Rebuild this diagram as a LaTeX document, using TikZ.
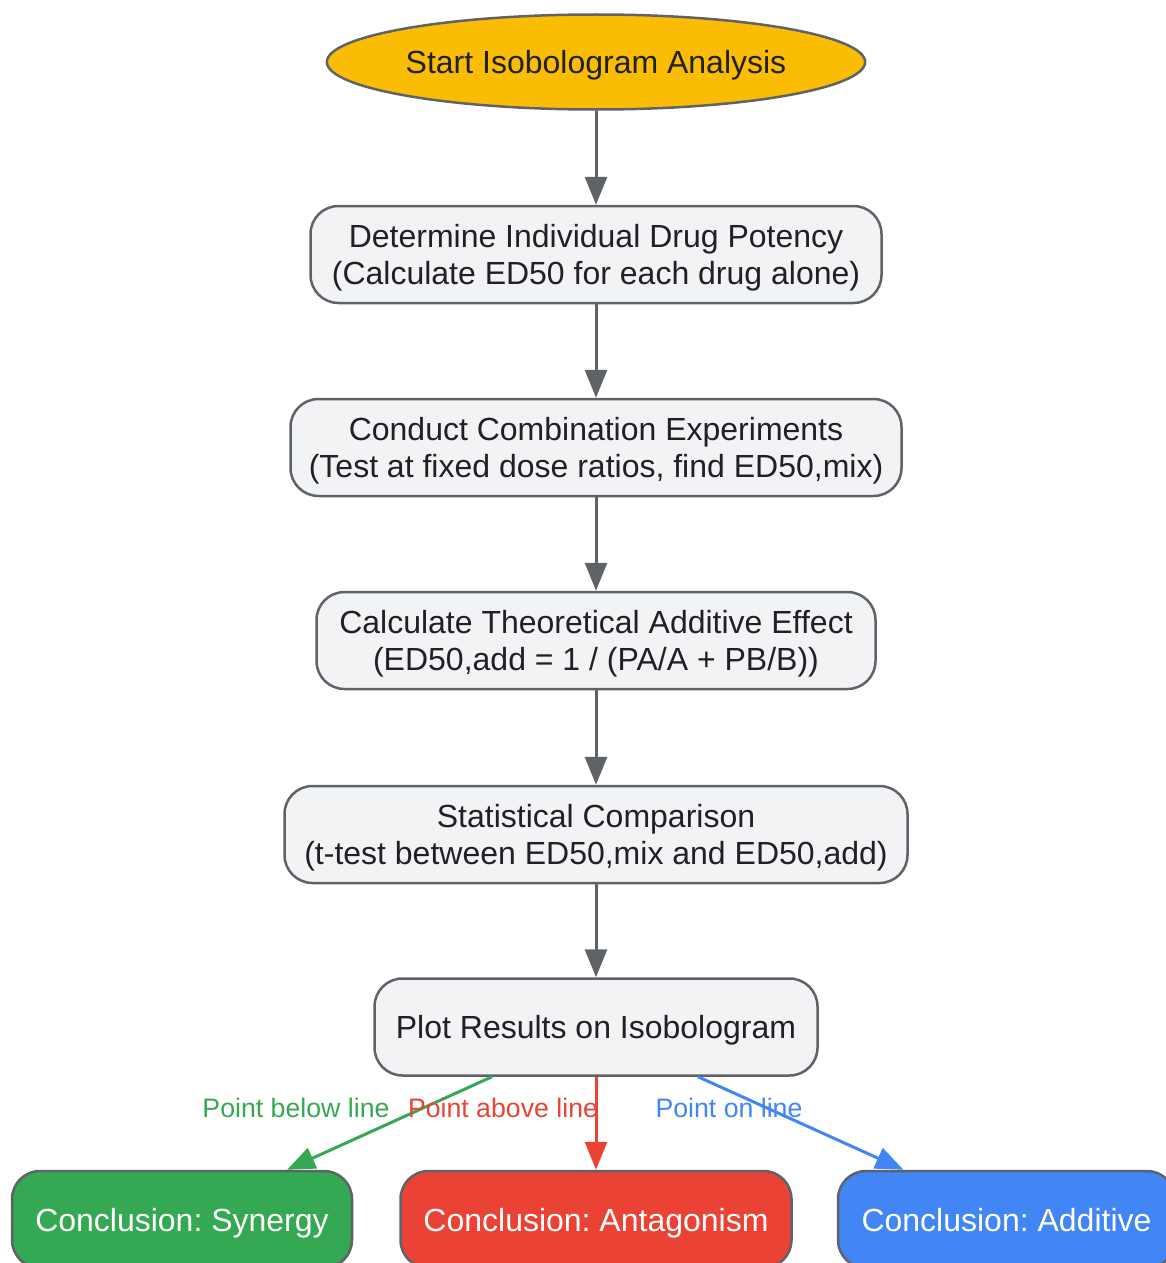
\documentclass[tikz,border=0pt]{standalone}
\usepackage{fontspec}
\setmainfont{Liberation Sans}
\usetikzlibrary{shapes.geometric,arrows.meta}
\definecolor{edgegray}{HTML}{5F6368}
\definecolor{boxfill}{HTML}{F1F3F4}
\definecolor{startfill}{HTML}{FBBC04}
\definecolor{txtdark}{HTML}{202124}
\definecolor{syngreen}{HTML}{34A853}
\definecolor{antred}{HTML}{EA4335}
\definecolor{addblue}{HTML}{4285F4}
\frenchspacing
\begin{document}
\begin{tikzpicture}[x=1pt, y=-1pt,
    stepbox/.style={draw=edgegray, line width=2.5pt, fill=boxfill, rounded corners=28pt,
        minimum height=97pt, inner sep=0pt, align=center, text=txtdark, text depth=0pt,
        font=\fontsize{32}{37.5}\selectfont},
    endbox/.style={stepbox, text=white},
    flow/.style={draw=edgegray, line width=3pt, -{Triangle[length=28pt,width=22pt]}},
    lbl/.style={font=\fontsize{26.7}{30}\selectfont}]
    % Isobologram workflow
    \useasboundingbox (0,0) rectangle (1166,1263);
    \node[ellipse, draw=edgegray, line width=2.5pt, fill=startfill, minimum width=537pt,
        minimum height=95pt, inner sep=0pt, text=txtdark, text depth=0pt,
        font=\fontsize{32}{37.5}\selectfont]
        (start) at (596,62) {Start Isobologram Analysis};
    \node[stepbox, minimum width=571pt] (potency) at (596,254.5)
        {Determine Individual Drug Potency\\(Calculate ED50 for each drug alone)};
    \node[stepbox, minimum width=611pt] (combo) at (596,447.5)
        {Conduct Combination Experiments\\(Test at fixed dose ratios, find ED50,mix)};
    \node[stepbox, minimum width=559pt] (additive) at (596,640.5)
        {Calculate Theoretical Additive Effect\\(ED50,add = 1 / (PA/A + PB/B))};
    \node[stepbox, minimum width=623pt] (stats) at (596,834.5)
        {Statistical Comparison\\(t-test between ED50,mix and ED50,add)};
    \node[stepbox, minimum width=443pt] (plot) at (596,1027) {Plot Results on Isobologram};
    \node[endbox, fill=syngreen, minimum width=340pt] (synergy) at (182,1219.5) {Conclusion: Synergy};
    \node[endbox, fill=antred, minimum width=391pt] (antagonism) at (596,1219.5) {Conclusion: Antagonism};
    \node[endbox, fill=addblue, minimum width=337pt] (additivec) at (1006.5,1219.5) {Conclusion: Additive};

    \draw[flow] (start) -- (potency);
    \draw[flow] (potency) -- (combo);
    \draw[flow] (combo) -- (additive);
    \draw[flow] (additive) -- (stats);
    \draw[flow] (stats) -- (plot);

    \node[lbl, text=addblue] (lon) at (729,1108) {Point on line};
    \draw[flow, draw=syngreen] ([xshift=-104pt]plot.south) -- ([xshift=105pt]synergy.north);
    \draw[flow, draw=antred] (plot.south) -- (antagonism.north);
    \draw[flow, draw=addblue] ([xshift=102pt]plot.south) -- ([xshift=-103pt]additivec.north);
    \node[lbl, text=syngreen] (lbelow) at (296,1108) {Point below line};
    \node[lbl, text=antred] (labove) at (503,1108) {Point above line};
\end{tikzpicture}
\end{document}
